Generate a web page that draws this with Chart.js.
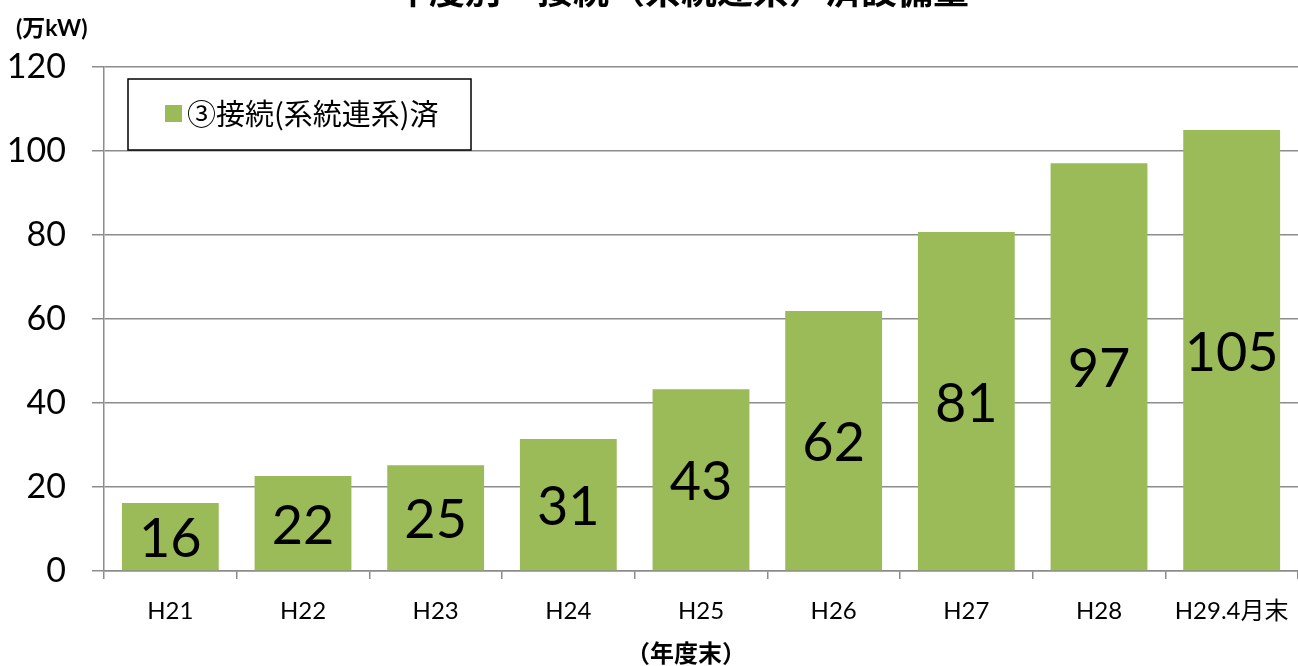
<!DOCTYPE html>
<html>
<head>
<meta charset="utf-8">
<script src="https://cdn.jsdelivr.net/npm/chart.js@4.4.0/dist/chart.umd.min.js"></script>
<style>
    html, body { margin: 0; padding: 0; background: #fff; }
    #wrap { position: relative; width: 1298px; height: 666px; }
</style>
</head>
<body>
<div id="wrap"><canvas id="capacityChart"></canvas></div>
<script>
// Chart data
const categories = ['H21', 'H22', 'H23', 'H24', 'H25', 'H26', 'H27', 'H28', 'H29.4月末'];
const connectedValues = [16.2, 22.6, 25.2, 31.4, 43.3, 61.9, 80.7, 97.1, 105.0];
const valueLabels = ['16', '22', '25', '31', '43', '62', '81', '97', '105'];
const yTickValues = [0, 20, 40, 60, 80, 100, 120];

const seriesName = '③接続(系統連系)済';
const chartTitle = '年度別　接続（系統連系）済設備量';
const yUnitLabel = '(万kW)';
const xAxisLabel = '（年度末）';

const barColor = '#9BBB59';
const gridColor = '#8c8c8c';
const latinFont = 'Lato, "Noto Sans CJK JP", sans-serif';
const cjkFont = '"Noto Sans CJK JP", Lato, sans-serif';

// Value labels centred inside each bar
const barValueLabels = {
    id: 'barValueLabels',
    afterDatasetsDraw(chart) {
        const ctx = chart.ctx;
        const meta = chart.getDatasetMeta(0);
        ctx.save();
        ctx.fillStyle = '#000';
        ctx.font = '54px ' + latinFont;
        ctx.textAlign = 'center';
        ctx.textBaseline = 'middle';
        meta.data.forEach((bar, i) => {
            ctx.fillText(valueLabels[i], bar.x, (bar.y + bar.base) / 2 + 3);
        });
        ctx.restore();
    }
};

// Boxed legend inside the plot area
const boxedLegend = {
    id: 'boxedLegend',
    afterDraw(chart) {
        const ctx = chart.ctx;
        const ds = chart.data.datasets[0];
        ctx.save();
        ctx.fillStyle = '#fff';
        ctx.fillRect(128, 79, 343, 71);
        ctx.strokeStyle = '#000';
        ctx.lineWidth = 1.5;
        ctx.strokeRect(128, 79, 343, 71);
        ctx.fillStyle = ds.backgroundColor;
        ctx.fillRect(165, 105, 17, 17);
        ctx.fillStyle = '#000';
        ctx.font = '29px ' + cjkFont;
        ctx.textAlign = 'left';
        ctx.textBaseline = 'middle';
        ctx.fillText(ds.label, 187, 114);
        ctx.restore();
    }
};

// Title (cut at the top edge), unit label and axis caption
const captions = {
    id: 'captions',
    afterDraw(chart) {
        const ctx = chart.ctx;
        ctx.save();
        ctx.fillStyle = '#000';
        ctx.textAlign = 'center';
        ctx.textBaseline = 'alphabetic';
        ctx.font = 'bold 36px ' + cjkFont;
        ctx.fillText(chartTitle, 681, 4);

        ctx.textAlign = 'left';
        ctx.textBaseline = 'middle';
        ctx.font = 'bold 23px ' + latinFont;
        ctx.fillText(yUnitLabel, 16, 29);

        ctx.textAlign = 'center';
        ctx.font = 'bold 24px ' + cjkFont;
        ctx.fillText(xAxisLabel, 686, 653);
        ctx.restore();
    }
};

const ctx = document.getElementById('capacityChart').getContext('2d');

new Chart(ctx, {
    type: 'bar',
    data: {
        labels: categories,
        datasets: [{
            label: seriesName,
            data: connectedValues,
            backgroundColor: barColor,
            borderWidth: 0,
            barPercentage: 0.73,
            categoryPercentage: 1.0
        }]
    },
    options: {
        responsive: true,
        maintainAspectRatio: false,
        animation: false,
        layout: {
            padding: { top: 67, right: -5, bottom: 0, left: 0 }
        },
        plugins: {
            legend: { display: false },
            title: { display: false },
            tooltip: { enabled: false }
        },
        scales: {
            x: {
                afterFit(scale) {
                    scale.height = 95;
                    scale.paddingLeft = 0;
                    scale.paddingRight = 0;
                },
                grid: {
                    offset: true,
                    drawOnChartArea: false,
                    drawTicks: true,
                    tickLength: 8,
                    color: gridColor,
                    lineWidth: 1.5
                },
                border: { color: gridColor, width: 1.5 },
                ticks: {
                    color: '#000',
                    padding: 18,
                    maxRotation: 0,
                    autoSkip: false,
                    font: { family: latinFont, size: 24 }
                }
            },
            y: {
                min: 0,
                max: 120,
                afterFit(scale) {
                    scale.width = 104;
                    scale.paddingTop = 0;
                    scale.paddingBottom = 0;
                },
                afterBuildTicks(scale) {
                    scale.ticks = yTickValues.map(v => ({ value: v }));
                },
                grid: {
                    color: gridColor,
                    lineWidth: 1.5,
                    drawTicks: true,
                    tickLength: 12
                },
                border: { color: gridColor, width: 1.5 },
                ticks: {
                    color: '#000',
                    padding: 26,
                    font: { family: latinFont, size: 34 }
                }
            }
        }
    },
    plugins: [barValueLabels, boxedLegend, captions]
});
</script>
</body>
</html>
